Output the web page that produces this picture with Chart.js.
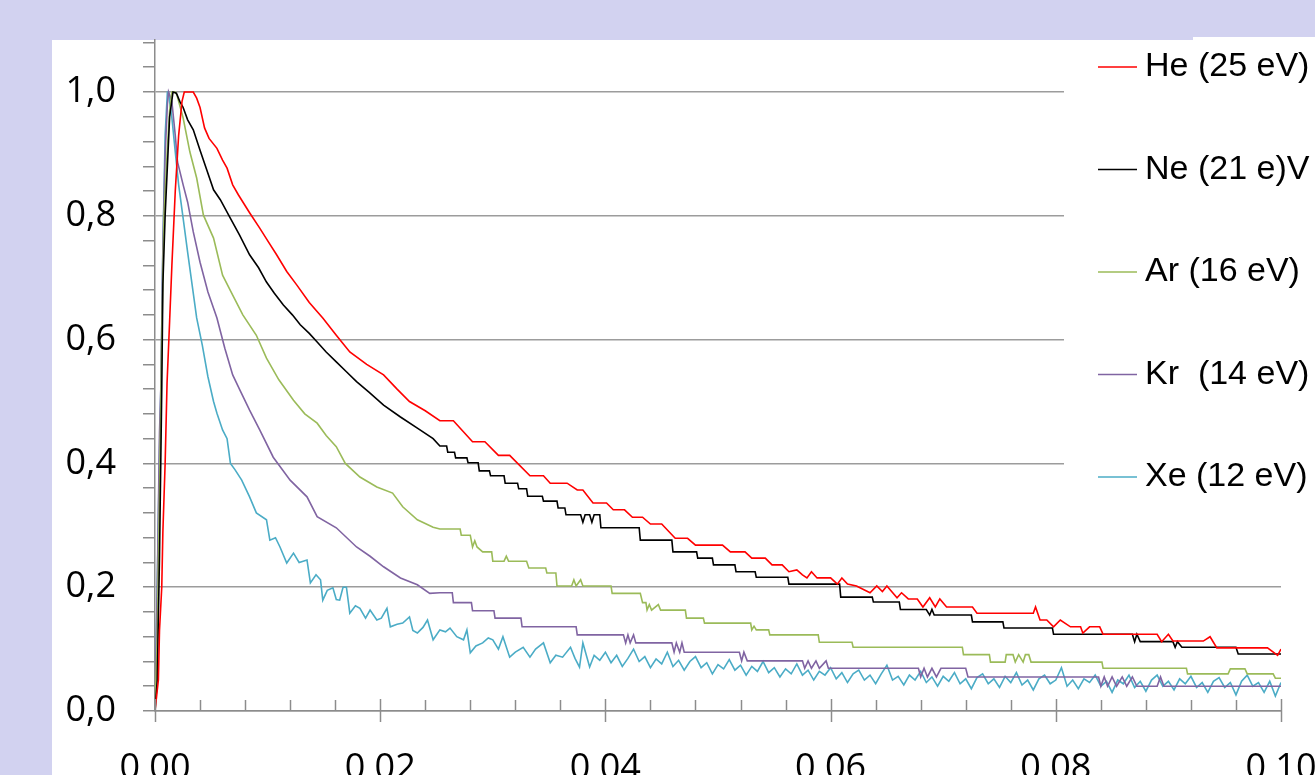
<!DOCTYPE html>
<html>
<head>
<meta charset="utf-8">
<script src="https://cdn.jsdelivr.net/npm/chart.js@4.4.0/dist/chart.umd.min.js"></script>
<style>
  html, body { margin: 0; padding: 0; background: #d2d2f0; overflow: hidden; }
  canvas { display: block; }
</style>
</head>
<body>
<canvas id="grafico" width="1315" height="775"></canvas>
<script>
// =============== DATA ===============
const seriesLabels = ['He (25 eV)', 'Ne (21 e)V', 'Ar (16 eV)', 'Kr  (14 eV)', 'Xe (12 eV)'];

const xMajorTicks = [0, 0.02, 0.04, 0.06, 0.08, 0.10];
const yMajorTicks = [0, 0.2, 0.4, 0.6, 0.8, 1.0];

const heData = [
  [0, 0], [0.0003, 0.05], [0.0004, 0.13], [0.0006, 0.2], [0.0007, 0.29], [0.0009, 0.40], [0.00107, 0.53],
  [0.0013, 0.63], [0.0015, 0.72], [0.0018, 0.84], [0.0021, 0.93], [0.0024, 0.985], [0.0026, 1.0], [0.0034, 1.0],
  [0.0037, 0.99], [0.0040, 0.975], [0.0044, 0.942], [0.0048, 0.925], [0.0055, 0.909], [0.0060, 0.89],
  [0.0064, 0.877], [0.0069, 0.85], [0.0074, 0.834], [0.0084, 0.805], [0.0093, 0.78], [0.0100, 0.76],
  [0.0108, 0.737], [0.0117, 0.71], [0.0126, 0.688], [0.0137, 0.66], [0.0149, 0.635], [0.0161, 0.607],
  [0.0173, 0.58], [0.0188, 0.56], [0.0203, 0.543], [0.0215, 0.52], [0.0226, 0.50], [0.0240, 0.485],
  [0.0253, 0.469], [0.0265, 0.469], [0.0282, 0.435], [0.0293, 0.435], [0.0305, 0.413], [0.0315, 0.413],
  [0.0333, 0.380], [0.0345, 0.380], [0.0351, 0.368], [0.0366, 0.368], [0.0375, 0.357], [0.0380, 0.357],
  [0.0389, 0.336], [0.0401, 0.336], [0.0407, 0.325], [0.0417, 0.325], [0.0424, 0.313], [0.0433, 0.313],
  [0.0440, 0.302], [0.0450, 0.302], [0.0462, 0.279], [0.0473, 0.279], [0.0480, 0.268], [0.0504, 0.268],
  [0.0511, 0.257], [0.0524, 0.257], [0.0530, 0.247], [0.0542, 0.247], [0.0548, 0.236], [0.0557, 0.236],
  [0.0563, 0.225], [0.0570, 0.228], [0.0575, 0.220], [0.0579, 0.215], [0.0583, 0.225], [0.0588, 0.215],
  [0.0600, 0.215], [0.0606, 0.205], [0.0610, 0.215], [0.0615, 0.205], [0.0623, 0.202], [0.0635, 0.191],
  [0.0641, 0.202], [0.0646, 0.193], [0.0650, 0.202], [0.0659, 0.183], [0.0663, 0.191], [0.0669, 0.181],
  [0.0677, 0.181], [0.0682, 0.168], [0.0688, 0.183], [0.0693, 0.168], [0.0697, 0.181], [0.0703, 0.168],
  [0.0726, 0.168], [0.0730, 0.158], [0.0780, 0.158], [0.0782, 0.168], [0.0786, 0.147], [0.0792, 0.147],
  [0.0798, 0.136], [0.0804, 0.147], [0.0813, 0.136], [0.0822, 0.136], [0.0824, 0.126], [0.0830, 0.136],
  [0.0839, 0.136], [0.0842, 0.124], [0.0890, 0.124], [0.0894, 0.112], [0.0900, 0.124], [0.0904, 0.113],
  [0.0931, 0.113], [0.0937, 0.120], [0.0943, 0.102], [0.0988, 0.102], [0.0997, 0.090], [0.1000, 0.100]
];

const neData = [
  [0, 0], [0.0002, 0.05], [0.0004, 0.25], [0.0006, 0.52], [0.0007, 0.69], [0.0009, 0.80], [0.00115, 0.90],
  [0.0013, 0.96], [0.0016, 1.0], [0.0019, 0.998], [0.0022, 0.985], [0.0025, 0.975], [0.0029, 0.955],
  [0.0034, 0.939], [0.0040, 0.906], [0.0046, 0.874], [0.0052, 0.842], [0.0058, 0.826], [0.0067, 0.796],
  [0.0075, 0.769], [0.0084, 0.737], [0.0092, 0.716], [0.0099, 0.693], [0.0106, 0.675], [0.0114, 0.656],
  [0.0122, 0.640], [0.0129, 0.624], [0.0137, 0.610], [0.0144, 0.596], [0.0152, 0.58], [0.0161, 0.564],
  [0.0170, 0.548], [0.0179, 0.532], [0.0190, 0.515], [0.0203, 0.494], [0.0218, 0.475], [0.0233, 0.457],
  [0.0247, 0.44], [0.0253, 0.428], [0.0259, 0.428], [0.0260, 0.418], [0.0266, 0.418], [0.0267, 0.409],
  [0.0277, 0.409], [0.0278, 0.401], [0.0287, 0.401], [0.0288, 0.388], [0.0297, 0.388], [0.0298, 0.380],
  [0.0310, 0.380], [0.0311, 0.368], [0.0322, 0.368], [0.0323, 0.359], [0.0330, 0.359], [0.0331, 0.347],
  [0.0344, 0.347], [0.0345, 0.339], [0.0357, 0.339], [0.0358, 0.328], [0.0364, 0.328], [0.0365, 0.317],
  [0.0378, 0.317], [0.0380, 0.305], [0.0382, 0.317], [0.0386, 0.317], [0.0388, 0.305], [0.0390, 0.317],
  [0.0395, 0.317], [0.0396, 0.296], [0.0430, 0.296], [0.0431, 0.276], [0.0459, 0.276], [0.0460, 0.257],
  [0.0481, 0.257], [0.0482, 0.247], [0.0495, 0.247], [0.0496, 0.236], [0.0515, 0.236], [0.0516, 0.225],
  [0.0533, 0.225], [0.0534, 0.216], [0.0562, 0.216], [0.0563, 0.205], [0.0608, 0.205], [0.0609, 0.184],
  [0.0637, 0.184], [0.0638, 0.176], [0.0661, 0.176], [0.0662, 0.164], [0.0685, 0.164], [0.0688, 0.155],
  [0.0690, 0.164], [0.0692, 0.155], [0.0725, 0.155], [0.0726, 0.144], [0.0753, 0.144], [0.0754, 0.134],
  [0.0797, 0.134], [0.0798, 0.124], [0.0868, 0.124], [0.0870, 0.112], [0.0872, 0.124], [0.0875, 0.112],
  [0.0904, 0.112], [0.0906, 0.103], [0.0908, 0.112], [0.0912, 0.103], [0.0960, 0.103], [0.0962, 0.092],
  [0.1000, 0.092]
];

const arData = [
  [0, 0], [0.0002, 0.12], [0.0004, 0.35], [0.0006, 0.6], [0.0008, 0.8], [0.00107, 0.90], [0.0013, 0.97],
  [0.0015, 1.0], [0.0018, 1.0], [0.00195, 0.995], [0.0025, 0.958], [0.0031, 0.903], [0.0037, 0.861],
  [0.0043, 0.801], [0.0052, 0.764], [0.0060, 0.704], [0.0069, 0.672], [0.0078, 0.640], [0.0090, 0.607],
  [0.0099, 0.570], [0.0110, 0.535], [0.0123, 0.502], [0.0133, 0.48], [0.0144, 0.465], [0.0152, 0.445],
  [0.0161, 0.427], [0.0169, 0.40], [0.0182, 0.378], [0.0197, 0.362], [0.0211, 0.352], [0.0220, 0.330],
  [0.0233, 0.309], [0.0247, 0.297], [0.0253, 0.294], [0.0271, 0.294], [0.0272, 0.284], [0.0280, 0.284],
  [0.0282, 0.265], [0.0284, 0.275], [0.0286, 0.265], [0.0291, 0.257], [0.0299, 0.257], [0.0300, 0.242],
  [0.0310, 0.242], [0.0312, 0.25], [0.0314, 0.242], [0.0330, 0.242], [0.0332, 0.231], [0.0347, 0.231],
  [0.0348, 0.223], [0.0356, 0.223], [0.0357, 0.202], [0.0370, 0.202], [0.0372, 0.212], [0.0374, 0.202],
  [0.0378, 0.212], [0.0380, 0.202], [0.0405, 0.202], [0.0406, 0.190], [0.0431, 0.190], [0.0433, 0.175],
  [0.0436, 0.175], [0.0437, 0.163], [0.0439, 0.172], [0.0441, 0.163], [0.0447, 0.172], [0.0449, 0.163],
  [0.0471, 0.163], [0.0472, 0.150], [0.0487, 0.150], [0.0488, 0.142], [0.0529, 0.142], [0.0530, 0.131],
  [0.0532, 0.137], [0.0534, 0.131], [0.0545, 0.131], [0.0546, 0.123], [0.0589, 0.123], [0.0590, 0.111],
  [0.0619, 0.111], [0.0620, 0.103], [0.0717, 0.103], [0.0718, 0.091], [0.0741, 0.091], [0.0742, 0.079],
  [0.0755, 0.079], [0.0756, 0.091], [0.0762, 0.091], [0.0764, 0.079], [0.0767, 0.091], [0.0771, 0.079],
  [0.0773, 0.091], [0.0776, 0.091], [0.0778, 0.079], [0.0841, 0.079], [0.0842, 0.069], [0.0916, 0.069],
  [0.0917, 0.060], [0.0953, 0.060], [0.0955, 0.068], [0.0968, 0.068], [0.0970, 0.060], [0.0993, 0.060],
  [0.0995, 0.053], [0.1000, 0.053]
];

const krData = [
  [0, 0], [0.0002, 0.2], [0.0004, 0.45], [0.00053, 0.53], [0.0007, 0.75], [0.0009, 0.9], [0.0011, 0.98],
  [0.0012, 1.0], [0.0013, 0.995], [0.0015, 0.984], [0.0018, 0.93], [0.0020, 0.887], [0.0025, 0.850],
  [0.0029, 0.822], [0.0034, 0.774], [0.0040, 0.725], [0.0047, 0.677], [0.0055, 0.635], [0.0062, 0.586],
  [0.0069, 0.543], [0.0075, 0.52], [0.0084, 0.486], [0.0093, 0.454], [0.0105, 0.410], [0.0120, 0.373],
  [0.0135, 0.346], [0.0144, 0.314], [0.0161, 0.296], [0.0179, 0.265], [0.0191, 0.25], [0.0203, 0.233],
  [0.0218, 0.215], [0.0233, 0.204], [0.0244, 0.19], [0.0253, 0.191], [0.0264, 0.191], [0.0265, 0.175],
  [0.0281, 0.175], [0.0282, 0.162], [0.0301, 0.162], [0.0302, 0.150], [0.0325, 0.150], [0.0326, 0.136],
  [0.0374, 0.136], [0.0375, 0.123], [0.0416, 0.123], [0.0418, 0.110], [0.0420, 0.123], [0.0422, 0.110],
  [0.0425, 0.123], [0.0427, 0.110], [0.0459, 0.110], [0.0461, 0.095], [0.0463, 0.110], [0.0466, 0.095],
  [0.0468, 0.110], [0.0470, 0.095], [0.0519, 0.095], [0.0521, 0.081], [0.0523, 0.095], [0.0526, 0.081],
  [0.0575, 0.081], [0.0577, 0.069], [0.0580, 0.081], [0.0583, 0.069], [0.0587, 0.081], [0.0590, 0.069],
  [0.0596, 0.081], [0.0598, 0.069], [0.0678, 0.069], [0.0680, 0.055], [0.0683, 0.069], [0.0686, 0.055],
  [0.0690, 0.069], [0.0694, 0.055], [0.0698, 0.069], [0.0720, 0.069], [0.0722, 0.055], [0.0838, 0.055],
  [0.0840, 0.040], [0.0843, 0.055], [0.0846, 0.040], [0.0850, 0.055], [0.0854, 0.040], [0.0859, 0.055],
  [0.0863, 0.040], [0.0868, 0.055], [0.0872, 0.040], [0.0890, 0.040], [0.0893, 0.055], [0.0896, 0.040],
  [0.1000, 0.040]
];

const xeData = [
  [0, 0], [0.0002, 0.2], [0.0004, 0.42], [0.00053, 0.53], [0.0007, 0.75], [0.0009, 0.93], [0.0011, 1.0],
  [0.0012, 1.0], [0.0013, 0.984], [0.0015, 0.958], [0.0018, 0.903], [0.0021, 0.85], [0.0025, 0.796],
  [0.0029, 0.741], [0.0033, 0.688], [0.0037, 0.635], [0.0042, 0.591], [0.0047, 0.54], [0.0052, 0.50],
  [0.0055, 0.481], [0.0060, 0.454], [0.0064, 0.44], [0.0067, 0.40], [0.0071, 0.39], [0.0077, 0.373],
  [0.0084, 0.346], [0.0090, 0.32], [0.0099, 0.309], [0.0102, 0.276], [0.0107, 0.28], [0.0111, 0.265],
  [0.0117, 0.239], [0.0123, 0.255], [0.0128, 0.24], [0.0135, 0.244], [0.0138, 0.207], [0.0143, 0.22],
  [0.0147, 0.212], [0.0149, 0.179], [0.0153, 0.195], [0.0158, 0.199], [0.0161, 0.18], [0.0164, 0.179],
  [0.0167, 0.20], [0.0170, 0.2], [0.0173, 0.158], [0.0178, 0.17], [0.0182, 0.166], [0.0187, 0.15],
  [0.0191, 0.163], [0.0197, 0.147], [0.0201, 0.15], [0.0206, 0.166], [0.0209, 0.136], [0.0215, 0.14],
  [0.0220, 0.142], [0.0226, 0.152], [0.0229, 0.13], [0.0233, 0.126], [0.0238, 0.135], [0.0242, 0.147],
  [0.0247, 0.115], [0.0253, 0.131], [0.0258, 0.128], [0.0262, 0.134], [0.0268, 0.12], [0.0274, 0.115],
  [0.0277, 0.131], [0.0280, 0.094], [0.0285, 0.105], [0.0291, 0.11], [0.0296, 0.118], [0.0300, 0.115],
  [0.0305, 0.10], [0.0309, 0.12], [0.0315, 0.087], [0.0320, 0.095], [0.0327, 0.103], [0.0333, 0.087],
  [0.0338, 0.10], [0.0345, 0.11], [0.0351, 0.078], [0.0356, 0.09], [0.0362, 0.087], [0.0369, 0.103],
  [0.0373, 0.085], [0.0377, 0.071], [0.0380, 0.11], [0.0386, 0.071], [0.0390, 0.09], [0.0395, 0.082],
  [0.0400, 0.095], [0.0405, 0.078], [0.0410, 0.090], [0.0415, 0.072], [0.0420, 0.085], [0.0425, 0.100],
  [0.0430, 0.080], [0.0435, 0.088], [0.0440, 0.070], [0.0445, 0.084], [0.0450, 0.076], [0.0455, 0.095],
  [0.0460, 0.072], [0.0465, 0.082], [0.0470, 0.066], [0.0475, 0.080], [0.0480, 0.088], [0.0485, 0.070],
  [0.0490, 0.078], [0.0495, 0.060], [0.0500, 0.075], [0.0505, 0.068], [0.0510, 0.083], [0.0515, 0.066],
  [0.0520, 0.074], [0.0525, 0.058], [0.0530, 0.072], [0.0535, 0.064], [0.0540, 0.080], [0.0545, 0.062],
  [0.0550, 0.070], [0.0555, 0.055], [0.0560, 0.068], [0.0565, 0.060], [0.0570, 0.076], [0.0575, 0.058],
  [0.0580, 0.066], [0.0585, 0.050], [0.0590, 0.064], [0.0595, 0.058], [0.0600, 0.070], [0.0605, 0.052],
  [0.0610, 0.062], [0.0615, 0.046], [0.0620, 0.060], [0.0625, 0.066], [0.0630, 0.050], [0.0635, 0.058],
  [0.0640, 0.044], [0.0645, 0.060], [0.0650, 0.074], [0.0655, 0.050], [0.0660, 0.056], [0.0665, 0.042],
  [0.0670, 0.058], [0.0675, 0.050], [0.0680, 0.064], [0.0685, 0.046], [0.0690, 0.055], [0.0695, 0.040],
  [0.0700, 0.056], [0.0705, 0.048], [0.0710, 0.062], [0.0715, 0.044], [0.0720, 0.052], [0.0725, 0.036],
  [0.0730, 0.054], [0.0735, 0.060], [0.0740, 0.044], [0.0745, 0.052], [0.0750, 0.038], [0.0755, 0.056],
  [0.0760, 0.046], [0.0765, 0.062], [0.0770, 0.042], [0.0775, 0.050], [0.0780, 0.034], [0.0785, 0.052],
  [0.0790, 0.058], [0.0795, 0.044], [0.0800, 0.050], [0.0805, 0.070], [0.0810, 0.040], [0.0815, 0.050],
  [0.0820, 0.036], [0.0825, 0.052], [0.0830, 0.046], [0.0835, 0.058], [0.0840, 0.040], [0.0845, 0.048],
  [0.0850, 0.030], [0.0855, 0.050], [0.0860, 0.044], [0.0865, 0.058], [0.0870, 0.038], [0.0875, 0.048],
  [0.0880, 0.032], [0.0885, 0.050], [0.0890, 0.058], [0.0895, 0.040], [0.0900, 0.048], [0.0905, 0.034],
  [0.0910, 0.052], [0.0915, 0.044], [0.0920, 0.056], [0.0925, 0.038], [0.0930, 0.046], [0.0935, 0.030],
  [0.0940, 0.048], [0.0945, 0.054], [0.0950, 0.038], [0.0955, 0.046], [0.0960, 0.026], [0.0965, 0.048],
  [0.0970, 0.058], [0.0975, 0.040], [0.0980, 0.046], [0.0985, 0.030], [0.0990, 0.048], [0.0995, 0.024],
  [0.1000, 0.046]
];

const seriesData = [heData, neData, arData, krData, xeData];
const seriesColors = ['#ff0000', '#000000', '#9bbb59', '#8064a2', '#4bacc6'];

// =============== AUXILIARES ===============
function subdivide(majors, parts, extraTop) {
  const out = [];
  const step = (majors[1] - majors[0]) / parts;
  const last = majors[majors.length - 1] + (extraTop || 0) * step;
  for (let v = majors[0]; v <= last + 1e-9; v += step) out.push(+v.toFixed(6));
  return out;
}
function isMajor(v, list) {
  return list.some(m => Math.abs(m - v) < 1e-6);
}

const xMinorTicks = subdivide(xMajorTicks, 5, 0);
const yMinorTicks = subdivide(yMajorTicks, 5, 2);

const AXIS_GREY = '#8c8c8c';
const GRID_GREY = '#9c9c9c';

// fundo lilás + painel branco
const fundoPlugin = {
  id: 'fundo',
  beforeDraw(chart) {
    const c = chart.ctx;
    c.save();
    c.fillStyle = '#d2d2f0';
    c.fillRect(0, 0, chart.width, chart.height);
    c.fillStyle = '#ffffff';
    c.fillRect(52, 40, chart.width - 52, chart.height - 40);
    c.fillRect(1193, 37, chart.width - 1193, 4);
    c.restore();
  }
};

// marcas do eixo x (menores para dentro, maiores cruzando)
const marcasXPlugin = {
  id: 'marcasX',
  afterDraw(chart) {
    const s = chart.scales.x;
    const c = chart.ctx;
    const y0 = s.top;
    c.save();
    c.strokeStyle = AXIS_GREY;
    c.lineWidth = 1.5;
    s.ticks.forEach(t => {
      const px = Math.round(s.getPixelForValue(t.value)) + 0.5;
      c.beginPath();
      if (isMajor(t.value, xMajorTicks)) {
        c.moveTo(px, y0 - 12);
        c.lineTo(px, y0 + 11);
      } else {
        c.moveTo(px, y0 - 11);
        c.lineTo(px, y0);
      }
      c.stroke();
    });
    c.restore();
  }
};

// legenda à direita, sobre fundo branco
const legendaPlugin = {
  id: 'legenda',
  afterDraw(chart) {
    const c = chart.ctx;
    c.save();
    c.fillStyle = '#ffffff';
    c.fillRect(1064, 41, chart.width - 1064, 486);
    c.font = '34px "Liberation Sans", Arial, sans-serif';
    c.textBaseline = 'middle';
    c.textAlign = 'left';
    chart.data.datasets.forEach((ds, i) => {
      const y = 67 + i * 102.5;
      c.strokeStyle = ds.borderColor;
      c.lineWidth = 1.5;
      c.beginPath();
      c.moveTo(1098, y);
      c.lineTo(1137, y);
      c.stroke();
      c.fillStyle = '#000000';
      c.fillText(ds.label, 1145, y);
    });
    c.restore();
  }
};

const ctx = document.getElementById('grafico').getContext('2d');
new Chart(ctx, {
  type: 'line',
  data: {
    datasets: seriesData.map((d, i) => ({
      label: seriesLabels[i],
      data: d.map(p => ({ x: p[0], y: p[1] })),
      borderColor: seriesColors[i],
      backgroundColor: seriesColors[i],
      borderWidth: 1.6,
      pointRadius: 0,
      tension: 0,
      fill: false
    }))
  },
  options: {
    responsive: false,
    animation: false,
    devicePixelRatio: 1,
    layout: { padding: { top: 40, right: 34, left: 0, bottom: 0 } },
    plugins: {
      legend: { display: false },
      tooltip: { enabled: false }
    },
    scales: {
      x: {
        type: 'linear',
        min: 0,
        max: 0.1,
        afterBuildTicks: s => { s.ticks = xMinorTicks.map(v => ({ value: v })); },
        afterFit: s => { s.height = 64; s.paddingLeft = 0; s.paddingRight = 0; },
        grid: { display: true, drawOnChartArea: false, drawTicks: false },
        border: { display: true, color: AXIS_GREY, width: 1.5 },
        ticks: {
          autoSkip: false,
          maxRotation: 0,
          minRotation: 0,
          padding: 36,
          color: '#000000',
          font: { family: '"Open Sans", sans-serif', size: 36 },
          callback: v => isMajor(v, xMajorTicks) ? v.toFixed(2).replace('.', ',') : ''
        }
      },
      y: {
        type: 'linear',
        min: 0,
        max: 1.084,
        afterBuildTicks: s => { s.ticks = yMinorTicks.map(v => ({ value: v })); },
        afterFit: s => { s.width = 155; s.paddingTop = 0; s.paddingBottom = 0; },
        grid: {
          color: c => isMajor(c.tick.value, yMajorTicks) ? GRID_GREY : 'rgba(0,0,0,0)',
          lineWidth: 1.5,
          drawTicks: true,
          tickLength: 12,
          tickColor: AXIS_GREY,
          tickWidth: 1.5
        },
        border: { display: true, color: AXIS_GREY, width: 1.5 },
        ticks: {
          autoSkip: false,
          padding: 27,
          color: '#000000',
          font: { family: '"Open Sans", sans-serif', size: 36 },
          callback: v => isMajor(v, yMajorTicks) ? v.toFixed(1).replace('.', ',') : ''
        }
      }
    }
  },
  plugins: [fundoPlugin, marcasXPlugin, legendaPlugin]
});
</script>
</body>
</html>
